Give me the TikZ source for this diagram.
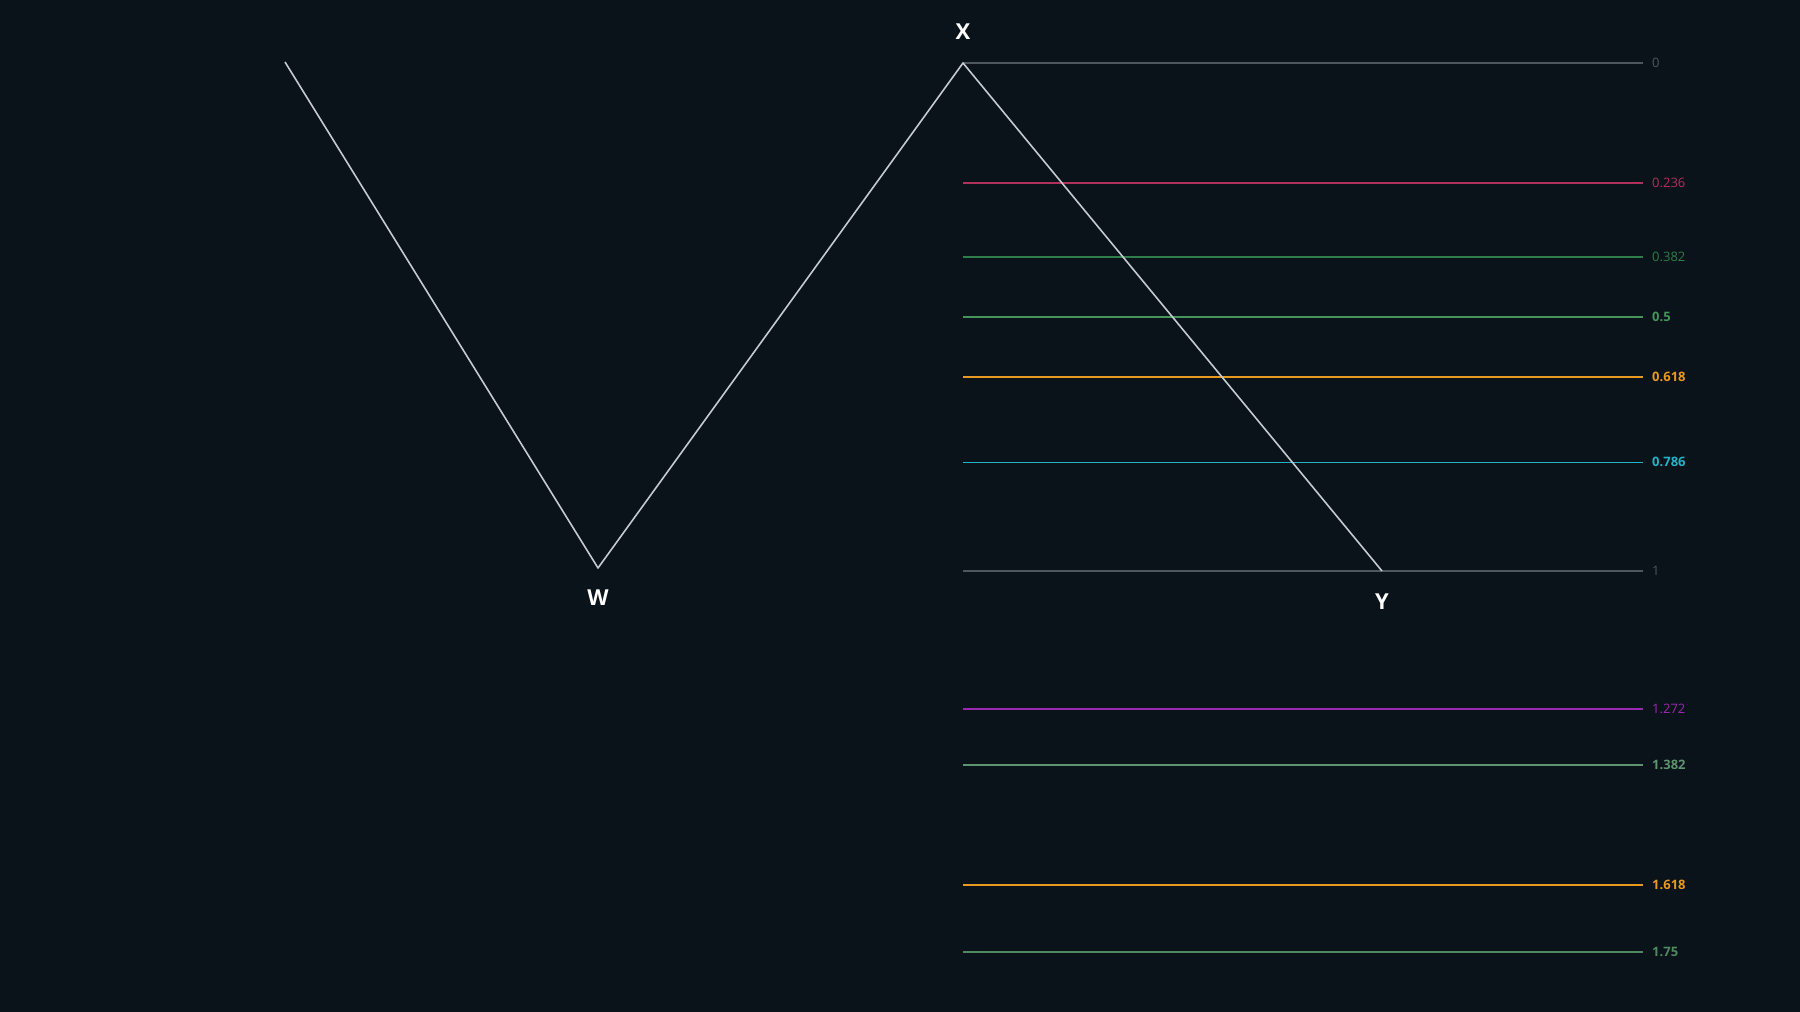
\documentclass[tikz,border=0pt]{standalone}
\usepackage{fontspec}
\setmainfont{Open Sans}
\definecolor{bg}{HTML}{0A121A}
\definecolor{zig}{HTML}{C5CAD0}
\definecolor{lgrey}{HTML}{4E5760}
\definecolor{lpink}{HTML}{B0305E}
\definecolor{lgreenA}{HTML}{2F7D48}
\definecolor{lgreenB}{HTML}{45945A}
\definecolor{lorange}{HTML}{E89A1E}
\definecolor{lcyan}{HTML}{25B3C6}
\definecolor{lpurple}{HTML}{9A2BB0}
\definecolor{lgreenC}{HTML}{5E9470}
\definecolor{lgreenD}{HTML}{4F8A60}
\begin{document}
\begin{tikzpicture}[x=1pt,y=-1pt,
  zigline/.style={draw=zig,line width=1.6pt},
  lvl/.style={line width=1.5pt},
  lvllab/.style={anchor=west,inner sep=0pt,font=\fontsize{13}{13}\selectfont},
  ptlab/.style={text=white,font=\fontsize{22}{22}\selectfont\bfseries,inner sep=0pt}]
\fill[bg] (0,0) rectangle (1800,1012);
\useasboundingbox (0,0) rectangle (1800,1012);
% points
\coordinate (S) at (285,62);
\coordinate (W) at (598,568);
\coordinate (X) at (963,63);
\coordinate (Y) at (1382,571);
% levels
\foreach \v/\c/\t/\w [count=\i] in {0/lgrey/0/\mdseries, 0.236/lpink/0.236/\mdseries, 0.382/lgreenA/0.382/\mdseries, 0.5/lgreenB/0.5/\bfseries, 0.618/lorange/0.618/\bfseries, 0.786/lcyan/0.786/\bfseries, 1/lgrey/1/\mdseries, 1.272/lpurple/1.272/\mdseries, 1.382/lgreenC/1.382/\bfseries, 1.618/lorange/1.618/\bfseries, 1.75/lgreenD/1.75/\bfseries}{
  \coordinate (La\i) at (963,{63+508*\v});
  \coordinate (Lb\i) at (1643,{63+508*\v});
  \draw[lvl,draw=\c] (La\i) -- (Lb\i);
  \node[lvllab,text=\c] (T\i) at ([xshift=9pt]Lb\i) {\w\t};
}
\draw[zigline,line join=round] (S) -- (W) -- (X) -- (Y);
\node[ptlab] (XL) at (963,32) {X};
\node[ptlab] (WL) at (598,598) {W};
\node[ptlab] (YL) at (1382,602) {Y};
\end{tikzpicture}
\end{document}
